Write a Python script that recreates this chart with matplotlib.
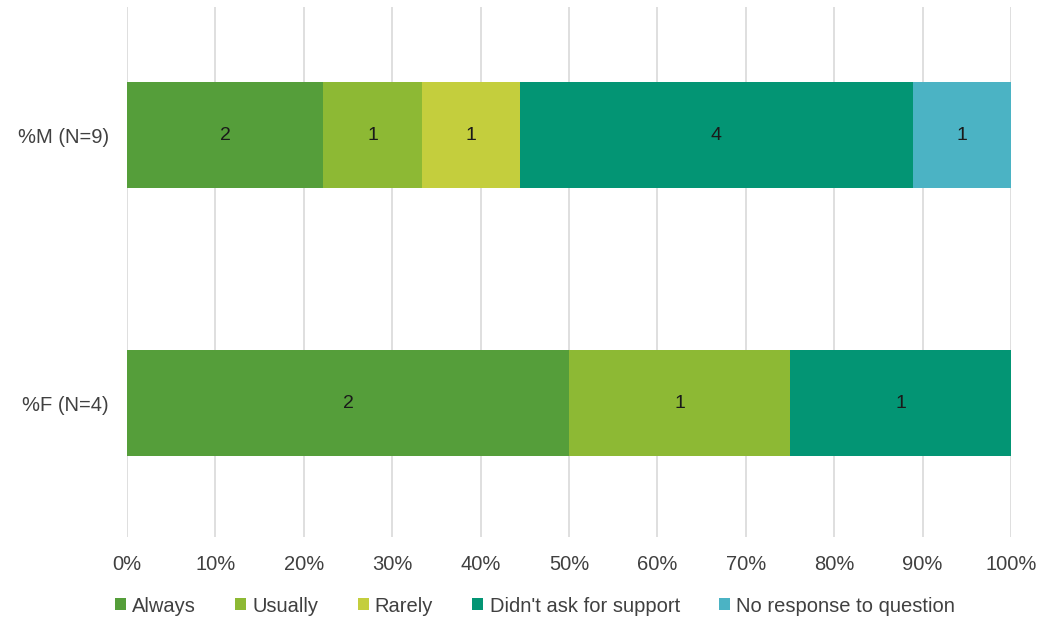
import matplotlib
matplotlib.use("Agg")
import matplotlib.pyplot as plt
from matplotlib.patches import Patch
import numpy as np

plt.rcParams['font.family'] = ['Liberation Sans', 'DejaVu Sans']

groups = ["%F (N=4)", "%M (N=9)"]
responses = ["Always", "Usually", "Rarely", "Didn't ask for support", "No response to question"]
counts_f = [2, 1, 0, 1, 0]
counts_m = [2, 1, 1, 4, 1]
colors = ["#559E3A", "#8DB934", "#C4CE3D", "#039574", "#4BB3C4"]
xticks = [0, 10, 20, 30, 40, 50, 60, 70, 80, 90, 100]

counts = np.array([counts_f, counts_m], dtype=float)
shares = counts / counts.sum(axis=1, keepdims=True) * 100

fig = plt.figure(figsize=(10.4, 6.18), dpi=100)
W, H = 1040, 618
ax = fig.add_axes([127 / W, 1 - 537 / H, (1011 - 127) / W, (537 - 7) / H])

y = np.arange(len(groups))
left = np.zeros(len(groups))
for j, name in enumerate(responses):
    bars = ax.barh(y, shares[:, j], left=left, height=0.396, color=colors[j],
                   label=name, zorder=3)
    for i, b in enumerate(bars):
        if counts[i, j] > 0:
            ax.text(left[i] + shares[i, j] / 2, y[i], f"{int(counts[i, j])}",
                    ha="center", va="center", fontsize=14, color="#1a1a1a", zorder=4)
    left += shares[:, j]

ax.set_xlim(0, 100)
ax.set_ylim(-0.5, 1.478)
ax.set_xticks(xticks)
ax.set_xticklabels([f"{t}%" for t in xticks], fontsize=14.5, color="#404040")
ax.set_yticks(y)
ax.set_yticklabels(groups, fontsize=14.5, color="#404040")
ax.tick_params(axis="y", length=0, pad=13)
ax.tick_params(axis="x", length=0, pad=13)
ax.xaxis.grid(True, color="#d9d9d9", linewidth=1.2, zorder=0)
ax.set_axisbelow(True)
for s in ax.spines.values():
    s.set_visible(False)

handles = [Patch(facecolor=c, edgecolor="none") for c in colors]
fig.legend(handles, responses, loc="center", bbox_to_anchor=(535 / W, 1 - 606 / H),
           ncol=5, frameon=False, fontsize=14.5, handlelength=0.55, handleheight=0.55,
           handletextpad=0.3, columnspacing=1.95, labelcolor="#404040")

fig.savefig("out.png", dpi=100, facecolor="white")
